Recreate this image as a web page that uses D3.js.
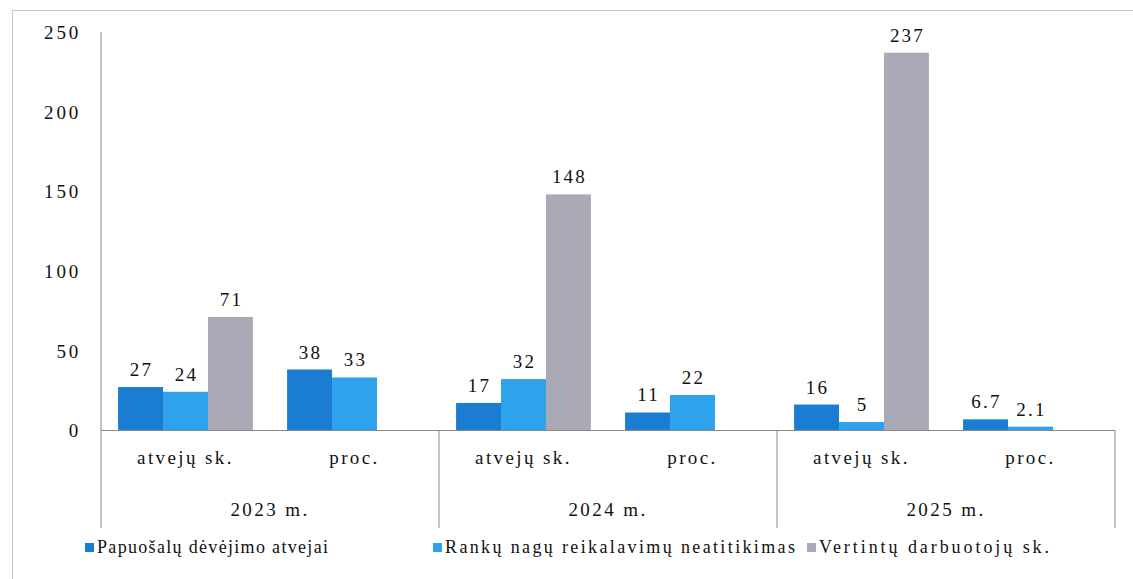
<!DOCTYPE html>
<html>
<head>
<meta charset="utf-8">
<script src="https://cdn.jsdelivr.net/npm/d3@7/dist/d3.min.js"></script>
</head>
<body style="margin:0;padding:0;background:#fff;">
<svg id="chart" width="1133" height="579" font-family="Liberation Serif"></svg>
<script>
const groups = ["2023 m.", "2024 m.", "2025 m."];
const subcats = ["atvejų sk.", "proc."];
const seriesNames = ["Papuošalų dėvėjimo atvejai", "Rankų nagų reikalavimų neatitikimas", "Vertintų darbuotojų sk."];
const seriesColors = ["#1b7dd2", "#2ea2ec", "#aaaab6"];
// values in order: 2023 atvejų, 2023 proc., 2024 atvejų, 2024 proc., 2025 atvejų, 2025 proc.
const papuosalai = [27, 38, 17, 11, 16, 6.7];
const nagai = [24, 33, 32, 22, 5, 2.1];
const darbuotojai = [71, null, 148, null, 237, null];
const yTicks = [0, 50, 100, 150, 200, 250];

const series = [papuosalai, nagai, darbuotojai];
const svg = d3.select("#chart");

const plotLeft = 101, plotRight = 1115, plotTop = 32, zeroY = 430, plotBottom = 528;

const x0 = d3.scaleBand().domain(groups).range([plotLeft, plotRight]).padding(0);
const x1 = d3.scaleBand().domain(subcats).range([0, x0.bandwidth()]).padding(0);
const x2 = d3.scaleBand().domain(d3.range(seriesNames.length)).range([0, x1.bandwidth()]).paddingInner(0).paddingOuter(0.38);
const y = d3.scaleLinear().domain([0, 250]).range([zeroY, plotTop]);

// outer border
svg.append("rect").attr("x", 12.5).attr("y", 10.5).attr("width", 1125).attr("height", 575)
  .attr("fill", "none").attr("stroke", "#c4c4c4").attr("stroke-width", 1);

// y axis labels
const yAxis = d3.axisLeft(y).tickValues(yTicks).tickSize(0).tickPadding(0);
const yg = svg.append("g").attr("transform", `translate(${plotLeft - 20},0)`).call(yAxis);
yg.select(".domain").remove();
yg.attr("font-family", "Liberation Serif").attr("font-size", 19);
yg.selectAll("text").attr("letter-spacing", 2.8)
  .attr("fill", "#111").attr("dy", "0.35em");

// bars
const rows = [];
groups.forEach((g, gi) => {
  subcats.forEach((s, si) => {
    const idx = gi * subcats.length + si;
    series.forEach((arr, k) => {
      if (arr[idx] !== null && arr[idx] !== undefined) {
        rows.push({g, s, k, v: arr[idx]});
      }
    });
  });
});

const barG = svg.append("g");
barG.selectAll("rect").data(rows).join("rect")
  .attr("x", d => x0(d.g) + x1(d.s) + x2(d.k))
  .attr("y", d => y(d.v))
  .attr("width", x2.bandwidth())
  .attr("height", d => zeroY - y(d.v))
  .attr("fill", d => seriesColors[d.k]);

barG.selectAll("text").data(rows).join("text")
  .attr("x", d => x0(d.g) + x1(d.s) + x2(d.k) + x2.bandwidth() / 2 + 1)
  .attr("y", d => y(d.v) - 11)
  .attr("text-anchor", "middle")
  .attr("font-family", "Liberation Serif")
  .attr("font-size", 19).attr("letter-spacing", 2.2)
  .attr("fill", "#111")
  .text(d => d.v);

// axis lines
const lineColor = "#8a8a8a";
svg.append("line").attr("x1", plotLeft).attr("x2", plotLeft).attr("y1", plotTop).attr("y2", plotBottom)
  .attr("stroke", lineColor).attr("stroke-width", 1);
svg.append("line").attr("x1", plotLeft).attr("x2", plotRight).attr("y1", zeroY + 0.5).attr("y2", zeroY + 0.5)
  .attr("stroke", lineColor).attr("stroke-width", 1);
groups.forEach(g => {
  const xe = x0(g) + x0.bandwidth();
  svg.append("line").attr("x1", xe).attr("x2", xe).attr("y1", zeroY).attr("y2", plotBottom)
    .attr("stroke", lineColor).attr("stroke-width", 1);
});

// category labels
groups.forEach(g => {
  subcats.forEach(s => {
    svg.append("text")
      .attr("x", x0(g) + x1(s) + x1.bandwidth() / 2)
      .attr("y", 464)
      .attr("text-anchor", "middle")
      .attr("font-family", "Liberation Serif")
      .attr("font-size", 19).attr("letter-spacing", 2.4)
      .attr("fill", "#111")
      .text(s);
  });
  svg.append("text")
    .attr("x", x0(g) + x0.bandwidth() / 2)
    .attr("y", 516)
    .attr("text-anchor", "middle")
    .attr("font-family", "Liberation Serif")
    .attr("font-size", 19).attr("letter-spacing", 2.4)
    .attr("fill", "#111")
    .text(g);
});

// legend
const legendX = [85, 433, 807];
const legendW = [231, 350, 230];
const lg = svg.append("g");
seriesNames.forEach((n, i) => {
  lg.append("rect").attr("x", legendX[i]).attr("y", 543).attr("width", 9).attr("height", 9)
    .attr("fill", seriesColors[i]);
  lg.append("text").attr("x", legendX[i] + 12).attr("y", 553)
    .attr("font-family", "Liberation Serif")
    .attr("font-size", 18)
    .attr("textLength", legendW[i]).attr("lengthAdjust", "spacing")
    .attr("fill", "#111")
    .text(n);
});
</script>
</body>
</html>
